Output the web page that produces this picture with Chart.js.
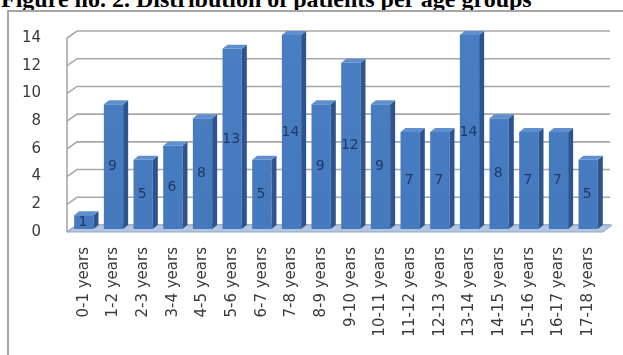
<!DOCTYPE html>
<html>
<head>
<meta charset="utf-8">
<script src="https://cdn.jsdelivr.net/npm/chart.js@4/dist/chart.umd.min.js"></script>
<style>
  html, body { margin: 0; padding: 0; background: #fff; width: 623px; height: 355px; overflow: hidden; }
  #title {
    position: absolute; left: 1px; top: -13px;
    font: bold 24px "Liberation Serif", "Times New Roman", serif;
    line-height: 24px; white-space: nowrap; color: #000;
  }
  #frame {
    position: absolute; left: 7px; top: 10px; width: 700px; height: 400px;
    border-top: 2px solid #a6a6a6; border-left: 2px solid #a6a6a6;
  }
  #wrap { position: absolute; left: 0; top: 0; width: 623px; height: 355px; }
</style>
</head>
<body>
<div id="title">Figure no. 2. Distribution of patients per age groups</div>
<div id="frame"></div>
<div id="wrap"><canvas id="chart"></canvas></div>
<script>
// Age groups and number of patients in each
const ageGroups = [
  '0-1 years', '1-2 years', '2-3 years', '3-4 years', '4-5 years', '5-6 years',
  '6-7 years', '7-8 years', '8-9 years', '9-10 years', '10-11 years', '11-12 years',
  '12-13 years', '13-14 years', '14-15 years', '15-16 years', '16-17 years', '17-18 years'
];
const patients = [1, 9, 5, 6, 8, 13, 5, 14, 9, 12, 9, 7, 7, 14, 8, 7, 7, 5];
const yTicks = [0, 2, 4, 6, 8, 10, 12, 14];

// Extrusion of the bars and of the chart walls
const BAR_DX = 5, BAR_DY = 4;
const WALL_DX = 10, WALL_DY = 7;
const FONT = '"DejaVu Sans", Verdana, sans-serif';

const depthPlugin = {
  id: 'depth3d',
  beforeDatasetsDraw(chart) {
    const ctx = chart.ctx;
    const { left, right } = chart.chartArea;
    const y = chart.scales.y;
    const y0 = y.getPixelForValue(0);
    ctx.save();

    // back wall and side wall grid lines
    ctx.strokeStyle = '#a8a8a8';
    ctx.lineWidth = 1.6;
    yTicks.forEach(v => {
      const p = y.getPixelForValue(v);
      ctx.beginPath();
      ctx.moveTo(left - 2, p + 3);
      ctx.lineTo(left - 2 + WALL_DX, p + 3 - WALL_DY);
      ctx.lineTo(right + 7, p + 3 - WALL_DY);
      ctx.stroke();
    });
    // front edge of the side wall
    const pTop = y.getPixelForValue(yTicks[yTicks.length - 1]);
    ctx.beginPath();
    ctx.moveTo(left - 2, pTop + 3);
    ctx.lineTo(left - 2, y0 + 3);
    ctx.stroke();

    // floor
    ctx.beginPath();
    ctx.moveTo(left - 2, y0 + 3);
    ctx.lineTo(left - 2 + WALL_DX, y0 + 3 - WALL_DY);
    ctx.lineTo(right + 9, y0 + 3 - WALL_DY);
    ctx.lineTo(right, y0 + 3);
    ctx.closePath();
    ctx.fillStyle = '#b4c6de';
    ctx.fill();
    ctx.strokeStyle = '#8fa6c6';
    ctx.lineWidth = 1;
    ctx.stroke();
    ctx.restore();
  },
  afterDatasetsDraw(chart) {
    const ctx = chart.ctx;
    const meta = chart.getDatasetMeta(0);
    ctx.save();
    meta.data.forEach((bar, i) => {
      const { x, y, base, width } = bar.getProps(['x', 'y', 'base', 'width'], true);
      const xl = x - width / 2, xr = x + width / 2;
      // side face
      ctx.beginPath();
      ctx.moveTo(xr, y);
      ctx.lineTo(xr + BAR_DX, y - BAR_DY);
      ctx.lineTo(xr + BAR_DX, base - BAR_DY);
      ctx.lineTo(xr, base);
      ctx.closePath();
      ctx.fillStyle = '#2c5590';
      ctx.fill();
      // top face
      ctx.beginPath();
      ctx.moveTo(xl, y);
      ctx.lineTo(xl + BAR_DX, y - BAR_DY);
      ctx.lineTo(xr + BAR_DX, y - BAR_DY);
      ctx.lineTo(xr, y);
      ctx.closePath();
      ctx.fillStyle = '#5f8fcf';
      ctx.fill();
      // value label in the middle of the front face
      ctx.font = '14px ' + FONT;
      ctx.fillStyle = '#1f3864';
      ctx.textAlign = 'center';
      ctx.textBaseline = 'middle';
      ctx.fillText(String(patients[i]), x - 1, (y + base) / 2);
    });
    ctx.restore();
  }
};

const ctx = document.getElementById('chart').getContext('2d');
const frontGradient = ctx.createLinearGradient(0, 0, 0, 355);
frontGradient.addColorStop(0, '#4a7fc3');
frontGradient.addColorStop(1, '#4376ba');

new Chart(ctx, {
  type: 'bar',
  data: {
    labels: ageGroups,
    datasets: [{
      data: patients,
      backgroundColor: frontGradient,
      borderWidth: 0,
      barPercentage: 0.65,
      categoryPercentage: 1.0
    }]
  },
  options: {
    responsive: true,
    maintainAspectRatio: false,
    animation: false,
    devicePixelRatio: 1,
    layout: { padding: { left: 0, right: 20, top: 35, bottom: 0 } },
    plugins: {
      legend: { display: false },
      title: { display: false },
      tooltip: { enabled: false }
    },
    scales: {
      x: {
        grid: { display: false },
        border: { display: false },
        ticks: {
          autoSkip: false,
          minRotation: 90,
          maxRotation: 90,
          padding: 10,
          color: '#3a3a3a',
          font: { family: FONT, size: 15 }
        },
        afterFit(scale) { scale.height = 126; }
      },
      y: {
        min: 0,
        max: 14,
        grid: { display: false },
        border: { display: false },
        ticks: {
          stepSize: 2,
          padding: 20,
          labelOffset: 3,
          color: '#3a3a3a',
          font: { family: FONT, size: 15 }
        },
        afterFit(scale) { scale.width = 69; }
      }
    }
  },
  plugins: [depthPlugin]
});
</script>
</body>
</html>
